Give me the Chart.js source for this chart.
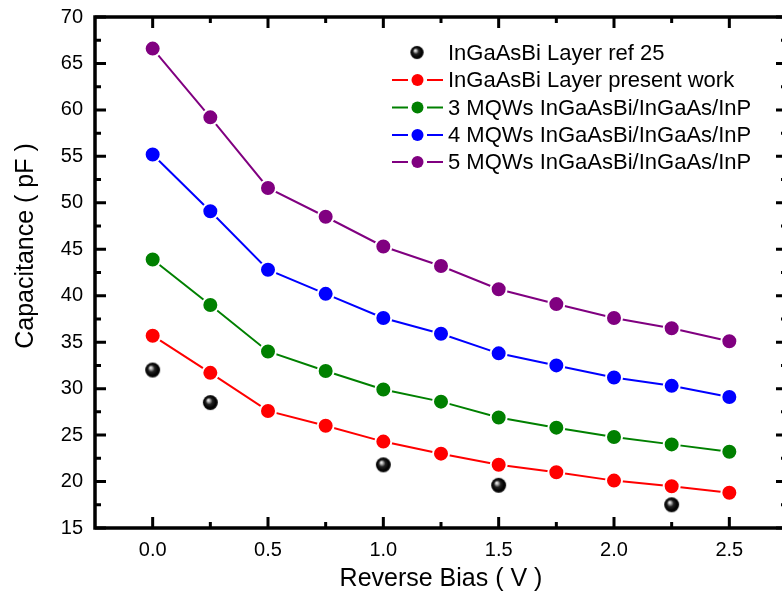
<!DOCTYPE html>
<html>
<head>
<meta charset="utf-8">
<script src="https://cdn.jsdelivr.net/npm/chart.js@4.4.1/dist/chart.umd.min.js"></script>
<style>
  html, body { margin: 0; padding: 0; overflow: hidden; background: #fff; }
  canvas { display: block; }
</style>
</head>
<body>
<canvas id="capChart" width="800" height="599"></canvas>
<script>
// Reverse bias points (V)
const biasVolts = [0, 0.25, 0.5, 0.75, 1.0, 1.25, 1.5, 1.75, 2.0, 2.25, 2.5];
const refBias = [0, 0.25, 1.0, 1.5, 2.25];

// Capacitance (pF)
const refLayer = [32.0, 28.5, 21.8, 19.6, 17.5];
const presentLayer = [35.7, 31.7, 27.6, 26.0, 24.3, 23.0, 21.8, 21.0, 20.1, 19.5, 18.8];
const mqw3 = [43.9, 39.0, 34.0, 31.9, 29.9, 28.6, 26.9, 25.8, 24.8, 24.0, 23.2];
const mqw4 = [55.2, 49.1, 42.8, 40.2, 37.6, 35.9, 33.8, 32.5, 31.2, 30.3, 29.1];
const mqw5 = [66.6, 59.2, 51.6, 48.5, 45.3, 43.2, 40.7, 39.1, 37.6, 36.5, 35.1];

const seriesNames = [
  "InGaAsBi Layer ref 25",
  "InGaAsBi Layer present work",
  "3 MQWs InGaAsBi/InGaAs/InP",
  "4 MQWs InGaAsBi/InGaAs/InP",
  "5 MQWs InGaAsBi/InGaAs/InP"
];
const seriesColors = ["#000000", "#ff0000", "#008000", "#0000ff", "#800080"];

// Tick values
const xTickValues = [0, 0.5, 1.0, 1.5, 2.0, 2.5];
const xMinorValues = [0.25, 0.75, 1.25, 1.75, 2.25];
const yTickValues = [15, 20, 25, 30, 35, 40, 45, 50, 55, 60, 65, 70];
const yMinorValues = [17.5, 22.5, 27.5, 32.5, 37.5, 42.5, 47.5, 52.5, 57.5, 62.5, 67.5];

const fontFamily = "'Liberation Sans', Arial, sans-serif";

// shaded black ball used for the reference data
function makeSphere(r) {
  const c = document.createElement("canvas");
  c.width = c.height = r * 2 + 2;
  const g = c.getContext("2d");
  const cx = r + 1, cy = r + 1;
  const grad = g.createRadialGradient(cx - r * 0.3, cy - r * 0.35, 0, cx, cy, r);
  grad.addColorStop(0, "#ffffff");
  grad.addColorStop(0.18, "#bbbbbb");
  grad.addColorStop(0.45, "#222222");
  grad.addColorStop(0.8, "#000000");
  grad.addColorStop(1, "#1a1a1a");
  g.fillStyle = grad;
  g.beginPath();
  g.arc(cx, cy, r, 0, Math.PI * 2);
  g.fill();
  return c;
}
const sphere = makeSphere(7.5);

function toPoints(xs, ys) {
  return xs.map((x, i) => ({ x: x, y: ys[i] }));
}

function lineSet(idx, values) {
  return {
    label: seriesNames[idx],
    data: toPoints(biasVolts, values),
    borderColor: seriesColors[idx],
    backgroundColor: seriesColors[idx],
    borderWidth: 2,
    pointRadius: 8,
    pointHoverRadius: 8,
    pointBorderWidth: 2,
    pointBorderColor: "#ffffff",
    pointBackgroundColor: seriesColors[idx],
    tension: 0
  };
}

// frame with inward ticks on all four sides
const framePlugin = {
  id: "frame",
  afterDraw(chart) {
    const ctx = chart.ctx;
    const a = chart.chartArea;
    const xs = chart.scales.x, ys = chart.scales.y;
    ctx.save();
    ctx.strokeStyle = "#000";
    ctx.lineCap = "butt";
    ctx.lineWidth = 3;
    xTickValues.concat(xMinorValues).forEach((v) => {
      const len = xTickValues.includes(v) ? 11 : 6;
      const px = xs.getPixelForValue(v);
      ctx.beginPath();
      ctx.moveTo(px, a.bottom); ctx.lineTo(px, a.bottom - len);
      ctx.moveTo(px, a.top); ctx.lineTo(px, a.top + len);
      ctx.stroke();
    });
    yTickValues.concat(yMinorValues).forEach((v) => {
      const len = yTickValues.includes(v) ? 11 : 6;
      const py = ys.getPixelForValue(v);
      ctx.beginPath();
      ctx.moveTo(a.left, py); ctx.lineTo(a.left + len, py);
      ctx.moveTo(a.right, py); ctx.lineTo(a.right - len, py);
      ctx.stroke();
    });
    ctx.lineWidth = 3.5;
    ctx.strokeRect(a.left, a.top, a.right - a.left, a.bottom - a.top);

    // axis titles
    ctx.fillStyle = "#000";
    ctx.font = "25px " + fontFamily;
    ctx.textAlign = "center";
    ctx.textBaseline = "alphabetic";
    ctx.fillText("Reverse Bias ( V )", (a.left + a.right) / 2, 586);
    ctx.translate(33, 246);
    ctx.rotate(-Math.PI / 2);
    ctx.fillText("Capacitance ( pF )", 0, 0);
    ctx.restore();
  }
};

// legend: line - marker - line, then label
const legendPlugin = {
  id: "legendBox",
  afterDraw(chart) {
    const ctx = chart.ctx;
    const rowY = [53, 80, 107.5, 135, 162];
    ctx.save();
    ctx.font = "22px " + fontFamily;
    ctx.textBaseline = "middle";
    ctx.textAlign = "left";
    chart.data.datasets.forEach((ds, i) => {
      const y = rowY[i];
      if (ds.showLine !== false) {
        ctx.strokeStyle = ds.borderColor;
        ctx.lineWidth = 2;
        ctx.beginPath();
        ctx.moveTo(392, y); ctx.lineTo(408, y);
        ctx.moveTo(427, y); ctx.lineTo(443, y);
        ctx.stroke();
        ctx.fillStyle = ds.pointBackgroundColor;
        ctx.beginPath();
        ctx.arc(417.5, y, 6, 0, Math.PI * 2);
        ctx.fill();
      } else {
        ctx.drawImage(sphere, 417.5 - sphere.width / 2 + 0.5, y - sphere.height / 2 + 0.5, sphere.width - 2, sphere.height - 2);
      }
      ctx.fillStyle = "#000";
      ctx.fillText(ds.label, 448, y + 1);
    });
    ctx.restore();
  }
};

const ctx = document.getElementById("capChart").getContext("2d");

new Chart(ctx, {
  type: "line",
  data: {
    datasets: [
      {
        label: seriesNames[0],
        data: toPoints(refBias, refLayer),
        showLine: false,
        pointStyle: sphere,
        pointRadius: 8,
        borderColor: "#000",
        backgroundColor: "#000",
        pointBackgroundColor: "#000"
      },
      lineSet(1, presentLayer),
      lineSet(2, mqw3),
      lineSet(3, mqw4),
      lineSet(4, mqw5)
    ]
  },
  options: {
    responsive: false,
    animation: false,
    layout: { padding: { top: 17, right: 13, left: 0, bottom: 0 } },
    scales: {
      x: {
        type: "linear",
        min: -0.25,
        max: 2.75,
        grid: { display: false, drawTicks: false },
        border: { display: false },
        afterFit: (s) => { s.height = 71; s.paddingLeft = 0; s.paddingRight = 0; },
        afterBuildTicks: (s) => { s.ticks = xTickValues.map((v) => ({ value: v })); },
        ticks: {
          padding: 10,
          color: "#000",
          font: { family: fontFamily, size: 20 },
          callback: (v) => Number(v).toFixed(1)
        }
      },
      y: {
        min: 15,
        max: 70,
        grid: { display: false, drawTicks: false },
        border: { display: false },
        afterFit: (s) => { s.width = 95; s.paddingTop = 0; s.paddingBottom = 0; },
        afterBuildTicks: (s) => { s.ticks = yTickValues.map((v) => ({ value: v })); },
        ticks: {
          padding: 12,
          color: "#000",
          font: { family: fontFamily, size: 20 },
          callback: (v) => String(v)
        }
      }
    },
    plugins: {
      legend: { display: false },
      tooltip: { enabled: false }
    }
  },
  plugins: [framePlugin, legendPlugin]
});
</script>
</body>
</html>
